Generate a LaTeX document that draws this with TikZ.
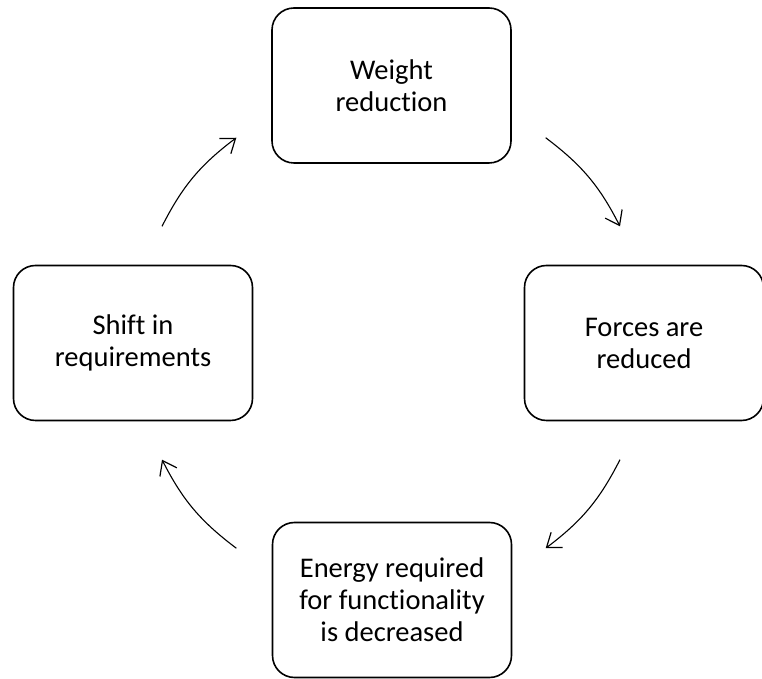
\documentclass[tikz,border=0pt]{standalone}
\usepackage{fontspec}
\setmainfont{Carlito}[Ligatures=NoCommon]
\usetikzlibrary{positioning,calc,arrows.meta}

\begin{document}
\begin{tikzpicture}[%
    x=1pt,
    y=1pt,
    font=\fontsize{28.5}{32}\selectfont,
    stage/.style={%
      rectangle,
      rounded corners=22pt,
      minimum width=239pt,
      minimum height=155pt,
      align=center,
      line width=1.6pt,
      draw
    },
    cycle/.style={%
      -{Straight Barb[length=13pt,width=19pt,line width=1.2pt]},
      line width=1.1pt,
      bend left=13
    }
  ]
    \useasboundingbox (0,0) rectangle (762,679);
    \coordinate (hub) at (391,336);

    \node[stage] (weight) at ($(hub)+(0.5,257.5)$) {Weight\\reduction};
    \node[stage] (forces) at ($(hub)+(253,0)$) {Forces are\\reduced};
    \node[stage] (energy) at ($(hub)+(1,-257)$) {Energy required\\for functionality\\is decreased};
    \node[stage] (shift) at ($(hub)+(-258,0)$) {Shift in\\requirements};

    % arrow ends on a circle round the hub
    \foreach \name/\from/\to in {wf/53/27, fe/-27/-53, es/-127/-153, sw/153/127} {
      \coordinate (\name-a) at ($(hub)+(\from:257pt)$);
      \coordinate (\name-b) at ($(hub)+(\to:257pt)$);
    }

    \path (wf-a) edge[cycle] (wf-b)
          (fe-a) edge[cycle] (fe-b)
          (es-a) edge[cycle] (es-b)
          (sw-a) edge[cycle] (sw-b);
\end{tikzpicture}
\end{document}
